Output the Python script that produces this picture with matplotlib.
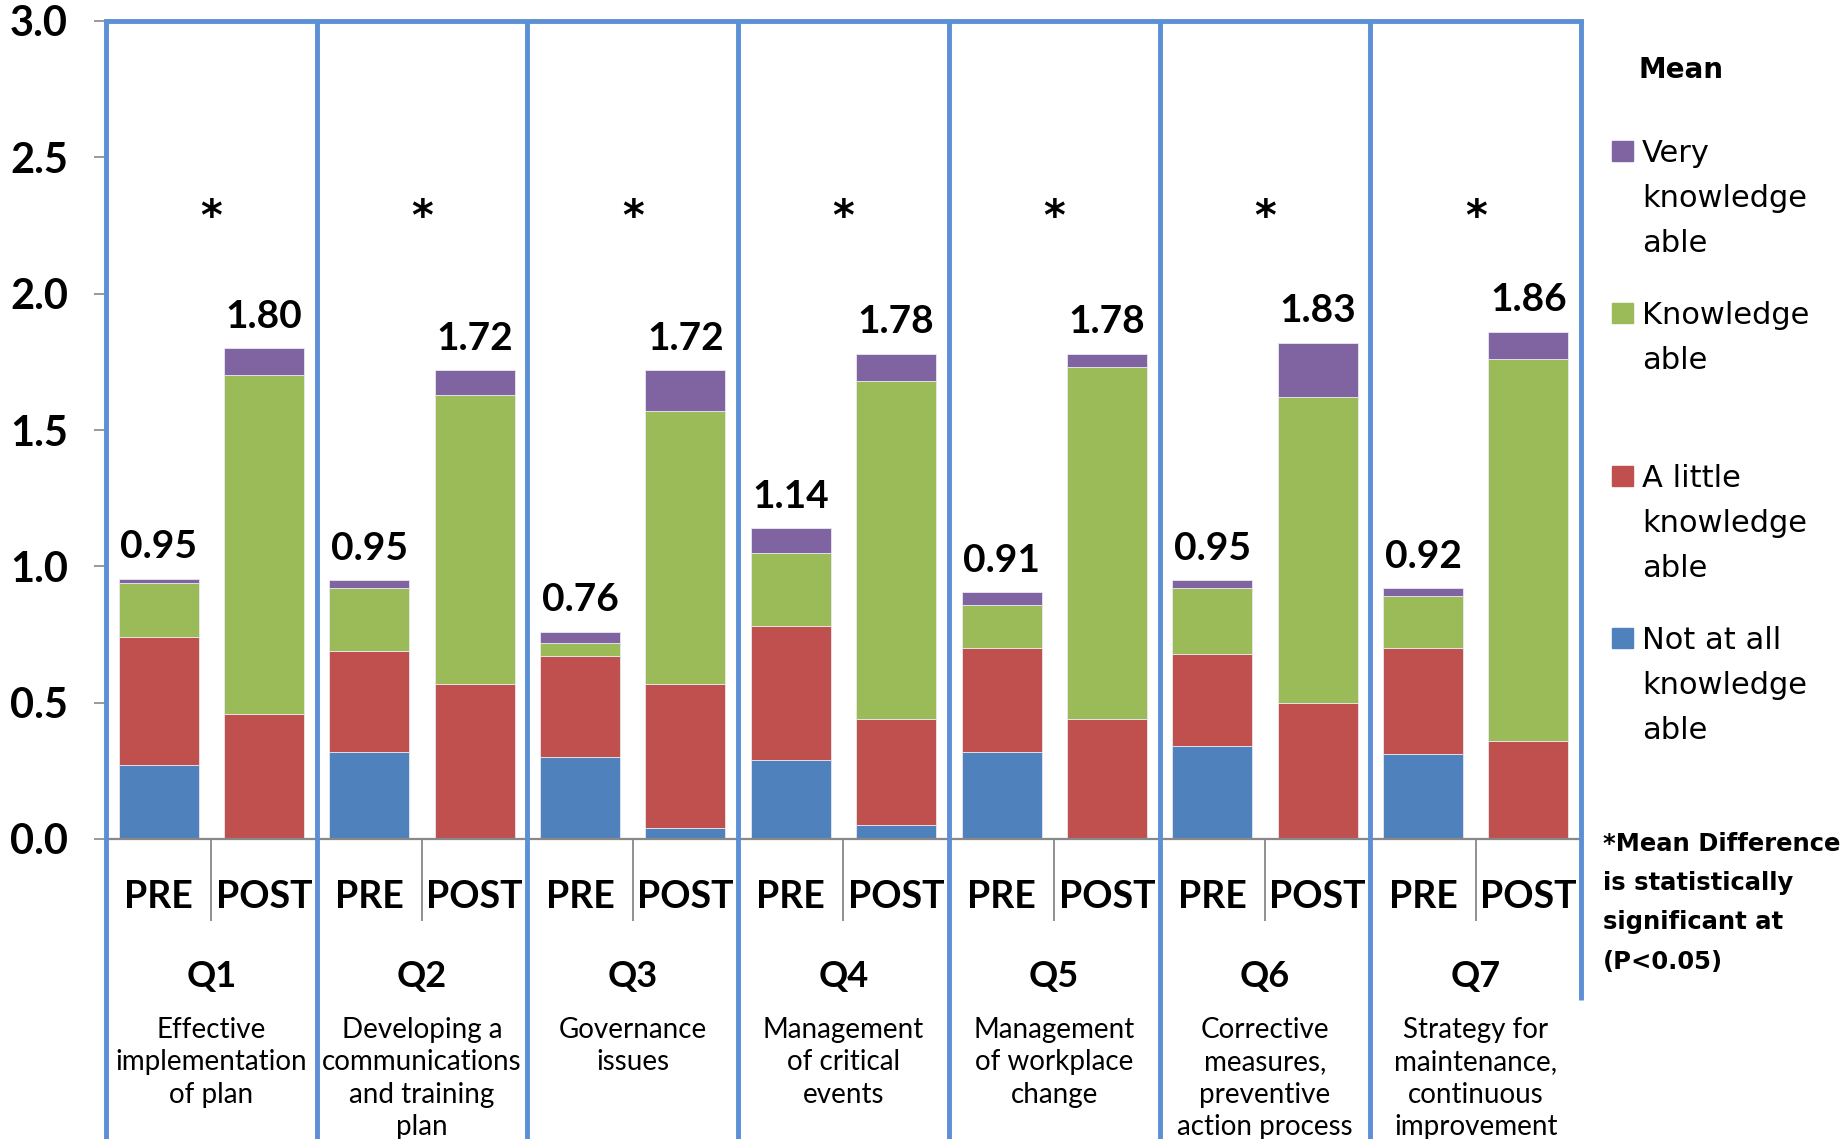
import matplotlib
matplotlib.use("Agg")
import matplotlib.pyplot as plt
import numpy as np
from matplotlib.patches import Rectangle
from matplotlib.transforms import blended_transform_factory

questions = ["Q1", "Q2", "Q3", "Q4", "Q5", "Q6", "Q7"]
descriptions = [
    "Effective\nimplementation\nof plan",
    "Developing a\ncommunications\nand training\nplan",
    "Governance\nissues",
    "Management\nof critical\nevents",
    "Management\nof workplace\nchange",
    "Corrective\nmeasures,\npreventive\naction process",
    "Strategy for\nmaintenance,\ncontinuous\nimprovement",
]
phases = ["PRE", "POST"]
series_names = ["Not at all\nknowledge\nable", "A little\nknowledge\nable",
                "Knowledge\nable", "Very\nknowledge\nable"]
colors = ["#4F81BD", "#C0504D", "#9BBB59", "#8064A2"]

# values per question: [PRE, POST]
not_at_all = [[0.27, 0.00], [0.32, 0.00], [0.30, 0.04], [0.29, 0.05],
              [0.32, 0.00], [0.34, 0.00], [0.31, 0.00]]
a_little = [[0.47, 0.46], [0.37, 0.57], [0.37, 0.53], [0.49, 0.39],
            [0.38, 0.44], [0.34, 0.50], [0.39, 0.36]]
knowledgeable = [[0.20, 1.24], [0.23, 1.06], [0.05, 1.00], [0.27, 1.24],
                 [0.16, 1.29], [0.24, 1.12], [0.19, 1.40]]
very = [[0.015, 0.10], [0.03, 0.09], [0.04, 0.15], [0.09, 0.10],
        [0.045, 0.05], [0.03, 0.20], [0.03, 0.10]]
mean_labels = [["0.95", "1.80"], ["0.95", "1.72"], ["0.76", "1.72"], ["1.14", "1.78"],
               ["0.91", "1.78"], ["0.95", "1.83"], ["0.92", "1.86"]]
significant = [True] * 7
star_level = 2.33

W, H = 1846, 1139
fig = plt.figure(figsize=(W / 100, H / 100), dpi=100)
ax_l, ax_r, ax_t, ax_b = 106, 1581, 21, 839
ax = fig.add_axes([ax_l / W, 1 - ax_b / H, (ax_r - ax_l) / W, (ax_b - ax_t) / H])

MAIN = "Lato"
BLUE_LINE = "#5B8FD6"
GRAY = "#888888"

n = len(questions)
offsets = [0.25, 0.75]
bw = 0.38
layers = [not_at_all, a_little, knowledgeable, very]
for qi in range(n):
    for pi in range(2):
        x = qi + offsets[pi]
        bottom = 0.0
        for li, layer in enumerate(layers):
            v = layer[qi][pi]
            if v > 0:
                ax.bar(x, v, width=bw, bottom=bottom, color=colors[li],
                       edgecolor="#E8E8F0", linewidth=0.6, zorder=2)
            bottom += v
        ax.annotate(mean_labels[qi][pi], xy=(x, bottom), xytext=(0, 23),
                    textcoords="offset points", ha="center", va="center",
                    fontsize=28, fontweight="bold", family=MAIN)
    if significant[qi]:
        ax.annotate("*", xy=(qi + 0.5, star_level), xytext=(0, -19),
                    textcoords="offset points", ha="center", va="baseline",
                    fontsize=30, fontweight="bold", family="DejaVu Sans")

ax.set_xlim(0, n)
ax.set_ylim(0, 3.0)
ax.set_yticks(np.arange(0, 3.01, 0.5))
ax.set_yticklabels([f"{v:.1f}" for v in np.arange(0, 3.01, 0.5)],
                   fontsize=30, fontweight="bold", family=MAIN)
ax.tick_params(axis="y", length=9, width=1.2, color=GRAY, pad=0)
for lab in ax.get_yticklabels():
    lab.set_horizontalalignment("left")
    lab.set_transform(blended_transform_factory(fig.transFigure, ax.transData))
    lab.set_position((10 / W, lab.get_position()[1]))

# x ticks: separators as ticks below the baseline
ax.set_xticks([i + 0.5 for i in range(n)] + list(range(n + 1)))
ax.set_xticklabels([])
ax.tick_params(axis="x", length=59, width=1.3, color=GRAY, direction="out")

for s in ["left", "right"]:
    ax.spines[s].set_visible(False)
ax.spines["bottom"].set_color(GRAY)
ax.spines["bottom"].set_linewidth(1.6)
ax.spines["top"].set_color(BLUE_LINE)
ax.spines["top"].set_linewidth(3.5)

trans = blended_transform_factory(ax.transData, ax.transAxes)
ybot = -(H - ax_b) / (ax_b - ax_t) - 0.01
for i in range(n + 1):
    y0 = ybot if i < n else -(1000 - ax_b) / (ax_b - ax_t)
    ax.plot([i, i], [y0, 1.0], transform=trans, color=BLUE_LINE, lw=3.5,
            clip_on=False, zorder=5, solid_capstyle="butt")

def yfrac(py):
    return (ax_b - py) / (ax_b - ax_t)

for qi in range(n):
    for pi in range(2):
        ax.text(qi + offsets[pi], yfrac(897), phases[pi], transform=trans,
                ha="center", va="center", fontsize=27, fontweight="bold", family=MAIN)
    ax.text(qi + 0.5, yfrac(976), questions[qi], transform=trans, ha="center",
            va="center", fontsize=26, fontweight="bold", family=MAIN)
    ax.text(qi + 0.5, yfrac(1017), descriptions[qi], transform=trans, ha="center",
            va="top", fontsize=20, family=MAIN, linespacing=1.3, clip_on=False)

# legend (manual)
fig.text(1681 / W, 1 - 70 / H, "Mean", ha="center", va="center", fontsize=20,
         fontweight="bold", family="DejaVu Sans")
leg_y = [151, 313, 476, 638]
order = [3, 2, 1, 0]
for k, li in enumerate(order):
    yc = leg_y[k]
    fig.add_artist(Rectangle((1612 / W, 1 - (yc + 10) / H), 21 / W, 20 / H,
                             transform=fig.transFigure, color=colors[li]))
    fig.text(1642 / W, 1 - (yc - 12) / H, series_names[li], ha="left", va="top",
             fontsize=22, family="DejaVu Sans", linespacing=1.7)

fig.text(1603 / W, 1 - 832 / H, "*Mean Difference\nis statistically\nsignificant at\n(P<0.05)",
         ha="left", va="top", fontsize=17.5, fontweight="bold", family="DejaVu Sans",
         linespacing=1.8)

fig.savefig("out.png", dpi=100)
